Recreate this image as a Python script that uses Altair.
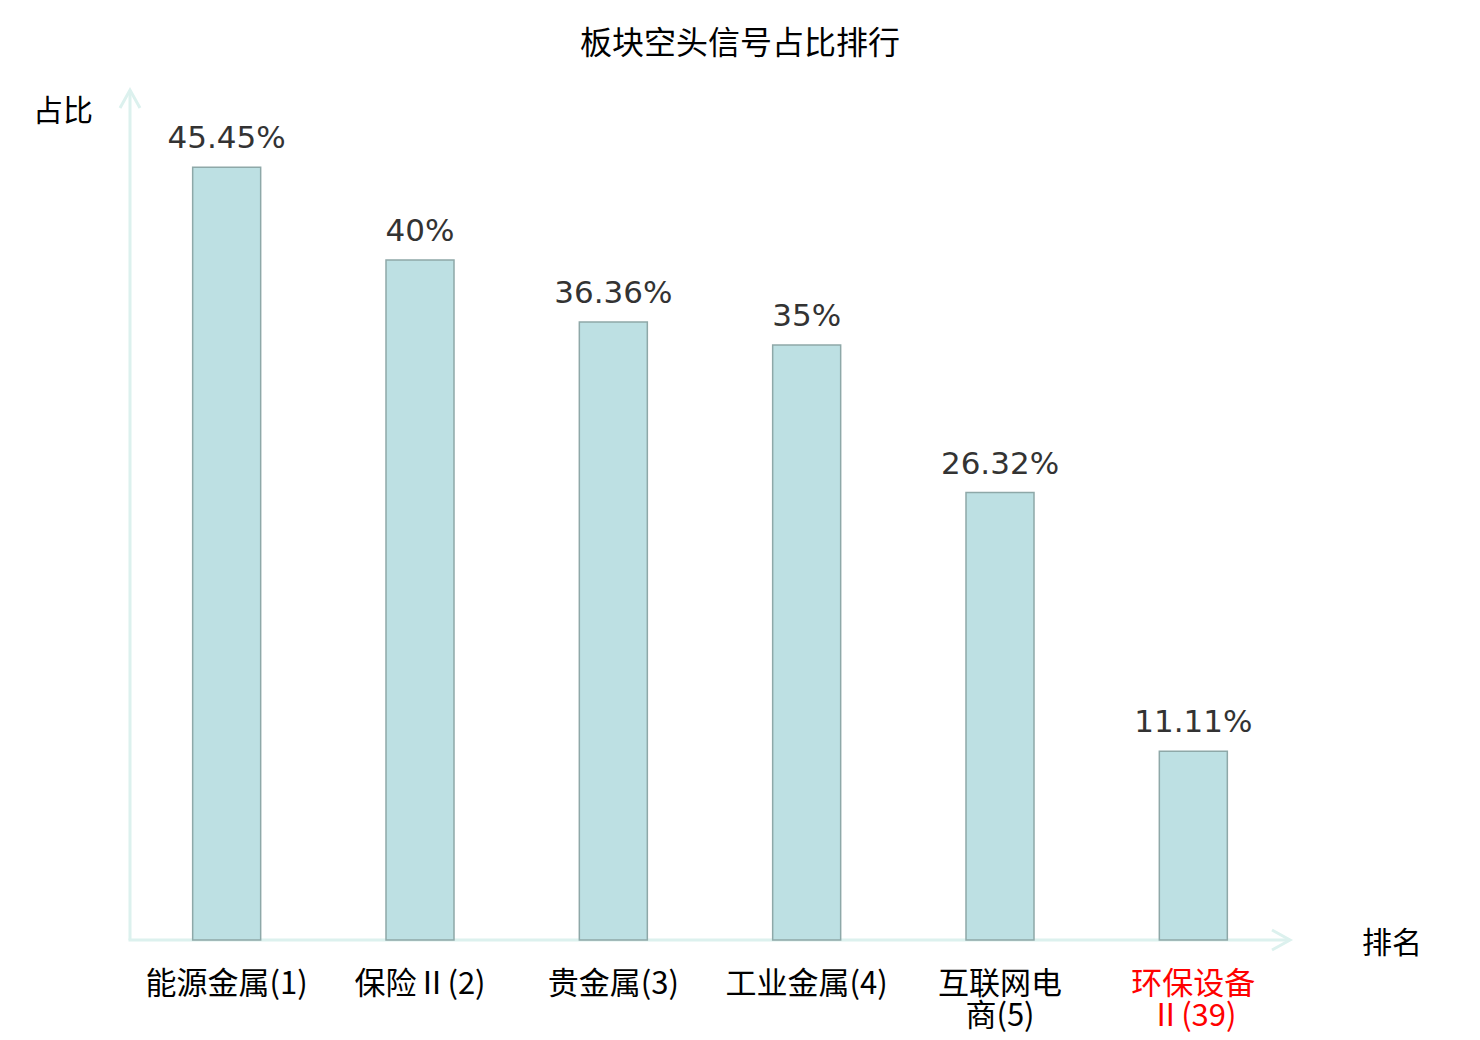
import altair as alt
import pandas as pd

categories = ["能源金属(1)", "保险Ⅱ(2)", "贵金属(3)", "工业金属(4)", "互联网电商(5)", "环保设备Ⅱ(39)"]
tick_labels = ["能源金属(1)", "保险Ⅱ(2)", "贵金属(3)", "工业金属(4)", "互联网电\n商(5)", "环保设备\nⅡ(39)"]
values = [45.45, 40.0, 36.36, 35.0, 26.32, 11.11]
value_labels = ["45.45%", "40%", "36.36%", "35%", "26.32%", "11.11%"]
label_colors = ["#000000", "#000000", "#000000", "#000000", "#000000", "#ff0000"]

title_text = "板块空头信号占比排行"
y_title = "占比"
x_title = "排名"

W, H = 1160, 850
AXIS_COLOR = "#dcf1ee"
CJK = "Noto Sans CJK SC"

df = pd.DataFrame({
    "category": categories,
    "tick": tick_labels,
    "value": values,
    "vlabel": value_labels,
    "lcolor": label_colors,
})

x_enc = alt.X("category:N", sort=categories, axis=None,
              scale=alt.Scale(paddingInner=0, paddingOuter=0))
y_enc = alt.Y("value:Q", axis=None, scale=alt.Scale(domain=[0, 50], nice=False, zero=True))

base = alt.Chart(df)

bars = base.mark_bar(width=68, fill="#bde0e3", stroke="#8ea8a8", strokeWidth=1.5).encode(
    x=x_enc, y=y_enc
)

vlabels = base.mark_text(dy=-19, baseline="alphabetic", fontSize=31, font="DejaVu Sans",
                         color="#333333").encode(x=x_enc, y=y_enc, text="vlabel:N")

xlabels = base.mark_text(baseline="top", fontSize=31, font=CJK, lineBreak="\n",
                         lineHeight=32).encode(
    x=x_enc, y=alt.value(H + 30), text="tick:N",
    color=alt.Color("lcolor:N", scale=None),
)

one = pd.DataFrame({"k": [0]})
yaxis_line = alt.Chart(one).mark_rule(color=AXIS_COLOR, strokeWidth=3).encode(
    x=alt.value(0), y=alt.value(0), y2=alt.value(H)
)
xaxis_line = alt.Chart(one).mark_rule(color=AXIS_COLOR, strokeWidth=3).encode(
    x=alt.value(-1.5), x2=alt.value(W), y=alt.value(H)
)
x_arrow = alt.Chart(one).mark_point(
    shape="M-1.8,-1L0,0L-1.8,1", size=400, filled=False, stroke=AXIS_COLOR,
    strokeWidth=3, opacity=1
).encode(x=alt.value(W), y=alt.value(H))
y_arrow = alt.Chart(one).mark_point(
    shape="M-1,1.8L0,0L1,1.8", size=400, filled=False, stroke=AXIS_COLOR,
    strokeWidth=3, opacity=1
).encode(x=alt.value(0), y=alt.value(0))

ytitle = alt.Chart(one).mark_text(fontSize=30, font=CJK, color="#000000",
                                   baseline="middle", align="center").encode(
    x=alt.value(-67), y=alt.value(22), text=alt.value(y_title)
)
xtitle = alt.Chart(one).mark_text(fontSize=30, font=CJK, color="#000000",
                                   baseline="middle", align="center").encode(
    x=alt.value(1262), y=alt.value(H + 4), text=alt.value(x_title)
)

chart = alt.layer(
    yaxis_line, xaxis_line, x_arrow, y_arrow, bars, vlabels, xlabels, ytitle, xtitle
).properties(
    width=W, height=H,
    title=alt.Title(title_text, fontSize=32, font=CJK, fontWeight="normal",
                    color="#000000", anchor="middle", dx=30, offset=23),
    autosize=alt.AutoSizeParams(type="none"),
    padding={"left": 122, "top": 82, "right": 182, "bottom": 92},
).configure_view(stroke=None)

chart.save("out.html", embed_options={"renderer": "svg", "actions": False})
